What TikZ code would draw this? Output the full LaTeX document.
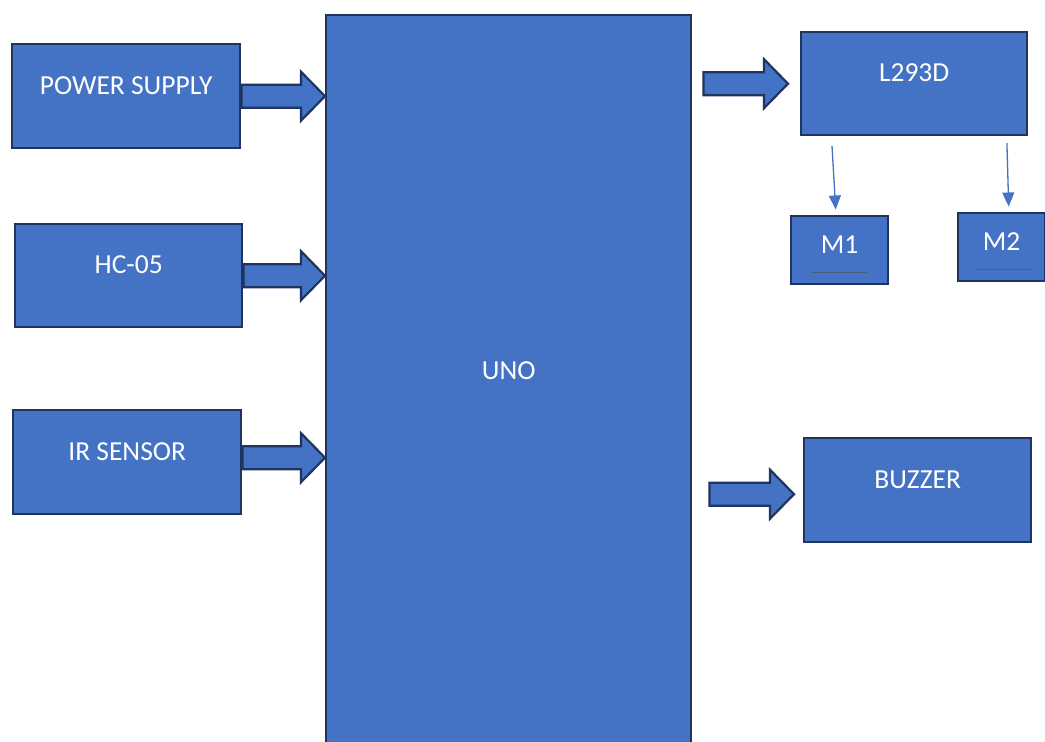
\documentclass[tikz,border=0pt]{standalone}
\usepackage{fontspec}
\setmainfont{Carlito}
\usetikzlibrary{calc,arrows.meta}
\definecolor{fillblue}{HTML}{4472C4}
\definecolor{edgeblue}{HTML}{1F3560}
\tikzset{
 blk/.style={draw=edgeblue, line width=2.4pt, fill=fillblue, text=white,
   font=\fontsize{27.5}{30}\selectfont, inner sep=0pt, anchor=north west,
   text height=18pt, text depth=21.6pt},
 mot/.style={blk, text depth=10.6pt},
 barrow/.style={draw=edgeblue, line width=2.2pt, fill=fillblue, line join=miter},
 thinarrow/.style={draw=fillblue, line width=1.3pt, -{Triangle[width=12pt,length=14pt]}},
 uline/.style={draw=edgeblue!80, line width=1pt}
}
\newcommand\blockarrow[2]{%
 \draw[barrow] ($#1+(0,11.5)$) -- ($#2+(-24,11.5)$) -- ($#2+(-24,24.5)$) -- #2
   -- ($#2+(-24,-24.5)$) -- ($#2+(-24,-11.5)$) -- ($#1+(0,-11.5)$) -- cycle;}
\begin{document}
\begin{tikzpicture}[x=1pt,y=-1pt]
\useasboundingbox (0,0) rectangle (1045,742);
\clip (0,0) rectangle (1045,742);
\fill[white] (0,0) rectangle (1045,742);
% boxes
\node[blk, minimum width=228, minimum height=104] (ps) at (11,43) {POWER SUPPLY};
\node[blk, minimum width=227, minimum height=103] (hc) at (14,223) {HC-05};
\node[blk, minimum width=228, minimum height=104] (ir) at (12,409) {IR SENSOR};
\node[blk, minimum width=365, minimum height=760, text depth=49.6pt] (uno) at (325,14) {UNO};
\node[blk, minimum width=226, minimum height=103] (l293) at (800,31) {L293D};
\node[mot, minimum width=97, minimum height=68] (m1) at (790,215) {M1};
\node[mot, minimum width=87, minimum height=68] (m2) at (957,212) {M2};
\node[blk, minimum width=227, minimum height=104] (buz) at (803,437) {BUZZER};
% block arrows
\coordinate (psB) at (uno.west |- ps.east);
\blockarrow{(ps.east)}{(psB)}
\coordinate (hcB) at (uno.west |- hc.east);
\blockarrow{(hc.east)}{(hcB)}
\coordinate (irA) at ($(ir.east)+(0,-4.5)$);
\coordinate (irB) at (uno.west |- irA);
\blockarrow{(irA)}{(irB)}
\coordinate (lA) at ($(uno.east |- l293.west)+(11,0)$);
\coordinate (lB) at ($(l293.west)+(-12,0)$);
\blockarrow{(lA)}{(lB)}
\coordinate (bA) at ($(uno.east |- buz.west)+(17,4)$);
\coordinate (bB) at ($(buz.west)+(-9,4)$);
\blockarrow{(bA)}{(bB)}
% thin arrows
\coordinate (m1s) at ($(l293.south west)+(32,9.5)$);
\coordinate (m1t) at ($(m1.north)+(-4,-5.5)$);
\draw[thinarrow] (m1s) -- (m1t);
\coordinate (m2s) at ($(l293.south east)+(-21.5,6.5)$);
\coordinate (m2t) at ($(m2.north)+(7,-5.5)$);
\draw[thinarrow] (m2s) -- (m2t);
% underlines
\draw[uline] ($(m1.south)+(-29,-12.5)$) -- ++(56,0);
\draw[uline] ($(m2.south)+(-25,-12.5)$) -- ++(56,0);
\end{tikzpicture}
\end{document}
